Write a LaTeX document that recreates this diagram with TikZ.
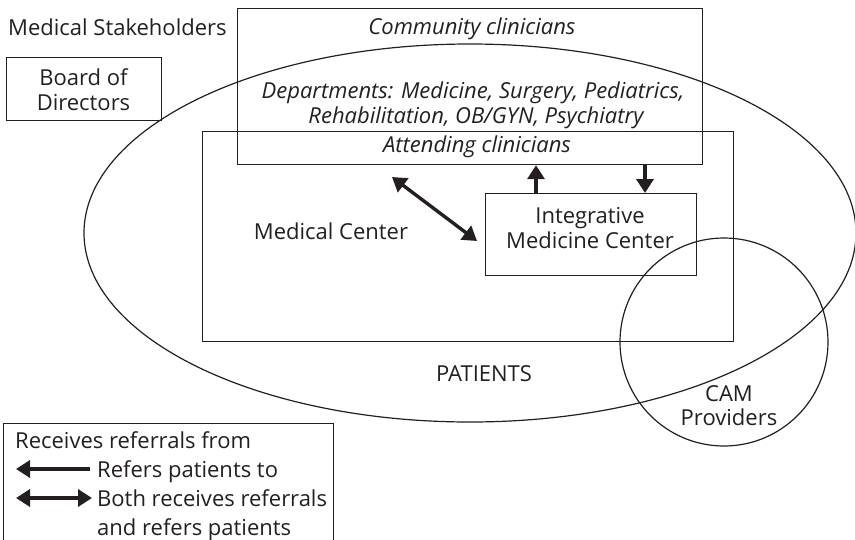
\documentclass[tikz,border=0pt]{standalone}
\usepackage{fontspec}
\setmainfont{Open Sans}
\usetikzlibrary{arrows.meta,calc}
\definecolor{ink}{HTML}{231F20}
\begin{document}
\begin{tikzpicture}[x=1pt,y=-1pt,
  thinline/.style={line width=1.2pt, draw=ink},
  boxshape/.style={thinline, rectangle, inner sep=0pt, anchor=north west},
  lbl/.style={font=\fontsize{22}{26}\selectfont, text=ink, inner sep=0pt, anchor=base},
  ilbl/.style={lbl, font=\fontsize{22}{26}\selectfont\itshape},
  arr/.style={line width=3.4pt, draw=ink, -{Triangle[length=14pt,width=17pt]}},
  darr/.style={line width=3.4pt, draw=ink, {Triangle[length=14pt,width=17pt]}-{Triangle[length=14pt,width=17pt]}}
]
\useasboundingbox (0,0) rectangle (855,539);

% ellipse (patients) and circle (CAM providers)
\draw[thinline] (470,233) ellipse [x radius=386pt, y radius=189pt];
\draw[thinline] (724,342) circle [radius=104pt];

% boxes
\node[boxshape, minimum width=155pt, minimum height=63pt] (board) at (6,57) {};
\node[boxshape, minimum width=465pt, minimum height=156pt] (comm) at (237,8) {};
\node[boxshape, minimum width=531pt, minimum height=210pt] (medc) at (202,131) {};
\node[boxshape, minimum width=211pt, minimum height=82pt] (imc) at (485,193) {};
\node[boxshape, minimum width=330pt, minimum height=130pt] (legend) at (3,423) {};

% texts
\node[lbl, anchor=base west] (stake) at (8,35) {Medical Stakeholders};
\node[lbl] (board1) at (83.5,85) {Board of};
\node[lbl] (board2) at (83.5,110) {Directors};
\node[ilbl] (commt) at (472,34) {Community clinicians};
\node[ilbl] (dept1) at (473,98) {Departments: Medicine, Surgery, Pediatrics,};
\node[ilbl] (dept2) at (476,123) {Rehabilitation, OB/GYN, Psychiatry};
\node[ilbl] (att) at (477,152) {Attending clinicians};
\node[lbl] (medct) at (331,239) {Medical Center};
\node[lbl] (imc1) at (590,223) {Integrative};
\node[lbl] (imc2) at (590,248) {Medicine Center};
\node[lbl] (pat) at (484,381) {PATIENTS};
\node[lbl] (cam1) at (729,401) {CAM};
\node[lbl] (cam2) at (729,425) {Providers};

% connectors
\coordinate (upS) at (imc.north west -| 536,0);
\coordinate (upE) at (comm.south west -| 536,0);
\coordinate (dnS) at (comm.south west -| 645,0);
\coordinate (dnE) at (imc.north west -| 645,0);
\draw[arr] (upS) -- (upE);
\draw[arr] (dnS) -- (dnE);
\coordinate (dgA) at (392,177);
\coordinate (dgB) at (477,241);
\draw[darr] (dgA) -- (dgB);

% legend
\node[lbl, anchor=base west] (lg1) at (15,448) {Receives referrals from};
\node[lbl, anchor=base west] (lg2) at (97,477) {Refers patients to};
\node[lbl, anchor=base west] (lg3) at (97,506) {Both receives referrals};
\node[lbl, anchor=base west] (lg4) at (97,535) {and refers patients};
\coordinate (la1) at (90,469);
\coordinate (la2) at (16,469);
\draw[arr] (la1) -- (la2);
\coordinate (lb1) at (16,498);
\coordinate (lb2) at (92,498);
\draw[darr] (lb1) -- (lb2);
\end{tikzpicture}
\end{document}
